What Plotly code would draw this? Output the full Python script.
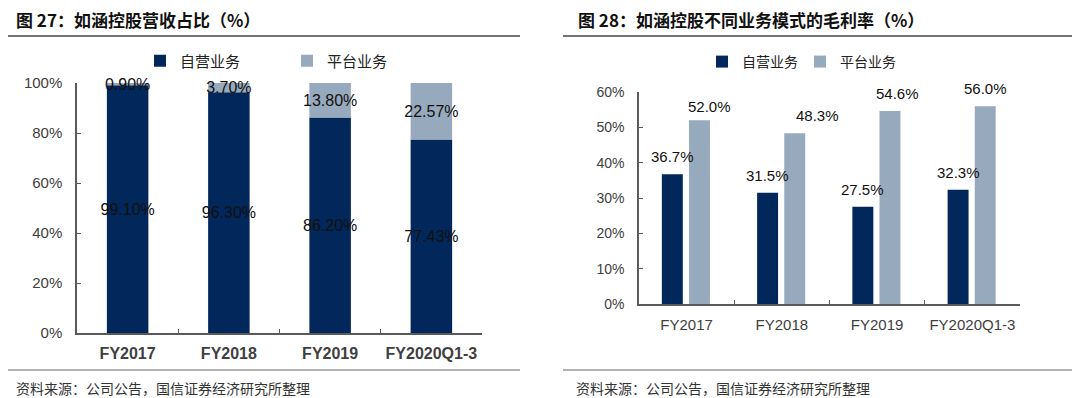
import plotly.graph_objects as go

# ---------------- data ----------------
categories = ["FY2017", "FY2018", "FY2019", "FY2020Q1-3"]
series_names = ["自营业务", "平台业务"]
self_share = [99.10, 96.30, 86.20, 77.43]        # 自营业务 revenue share (%)
platform_share = [0.90, 3.70, 13.80, 22.57]      # 平台业务 revenue share (%)
self_margin = [36.7, 31.5, 27.5, 32.3]           # 自营业务 gross margin (%)
platform_margin = [52.0, 48.3, 54.6, 56.0]       # 平台业务 gross margin (%)
share_ticks = [0, 20, 40, 60, 80, 100]
margin_ticks = [0, 10, 20, 30, 40, 50, 60]
title_left = "图 27：如涵控股营收占比（%）"
title_right = "图 28：如涵控股不同业务模式的毛利率（%）"
source_text = "资料来源：公司公告，国信证券经济研究所整理"

# ---------------- styling ----------------
PAGE_W, PAGE_H = 1080, 398
BODY = 8                      # default page margin around the plot div
W, H = PAGE_W - BODY, PAGE_H - BODY
NAVY = "#02275A"
LIGHT = "#97A9BC"
AXIS = "#5a5a5a"
TICKTXT = "#404040"
LABEL = "#111111"
CJK = "Noto Sans CJK SC"
LAT = "Liberation Sans, Arial, sans-serif"


def px(x):
    """page pixel x -> paper fraction"""
    return (x - BODY) / W


def py(y):
    """page pixel y -> paper fraction"""
    return 1 - (y - BODY) / H


fig = go.Figure()

# left: stacked share (overlay with explicit base)
fig.add_bar(x=categories, y=self_share, name=series_names[0], marker_color=NAVY,
            marker_line_width=0, width=0.41, offset=-0.205,
            text=[f"{v:.2f}%" for v in self_share], textposition="inside",
            insidetextanchor="middle", constraintext="none", textangle=0,
            insidetextfont=dict(family=LAT, size=16, color=LABEL), cliponaxis=False,
            xaxis="x", yaxis="y", legend="legend", hoverinfo="skip")
fig.add_bar(x=categories, y=platform_share, base=self_share, name=series_names[1],
            marker_color=LIGHT, marker_line_width=0, width=0.41, offset=-0.205,
            text=[f"{v:.2f}%" for v in platform_share], textposition="inside",
            insidetextanchor="middle", constraintext="none", textangle=0,
            insidetextfont=dict(family=LAT, size=16, color=LABEL), cliponaxis=False,
            xaxis="x", yaxis="y", legend="legend", hoverinfo="skip")

# right: grouped margins
BW = 0.22
OFF_SELF = -0.26
OFF_PLAT = 0.025
fig.add_bar(x=categories, y=self_margin, name=series_names[0], marker_color=NAVY,
            marker_line_width=0, width=BW, offset=OFF_SELF,
            xaxis="x2", yaxis="y2", legend="legend2", hoverinfo="skip")
fig.add_bar(x=categories, y=platform_margin, name=series_names[1], marker_color=LIGHT,
            marker_line_width=0, width=BW, offset=OFF_PLAT,
            xaxis="x2", yaxis="y2", legend="legend2", hoverinfo="skip")

annotations = []
# value labels on the margin chart (pixel nudges replicate the hand-placed labels)
self_nudge = [(0, 0), (0, 0), (0, 0), (0, 0)]
plat_nudge = [(10, -4), (23, 0), (8, 0), (0, 0)]
for i, v in enumerate(self_margin):
    annotations.append(dict(x=i + OFF_SELF + BW / 2, y=v, xref="x2", yref="y2",
                            text=f"{v:.1f}%", showarrow=False, yanchor="bottom",
                            xshift=self_nudge[i][0], yshift=7 + self_nudge[i][1],
                            font=dict(family=LAT, size=15, color=LABEL)))
for i, v in enumerate(platform_margin):
    annotations.append(dict(x=i + OFF_PLAT + BW / 2, y=v, xref="x2", yref="y2",
                            text=f"{v:.1f}%", showarrow=False, yanchor="bottom",
                            xshift=plat_nudge[i][0], yshift=7 + plat_nudge[i][1],
                            font=dict(family=LAT, size=15, color=LABEL)))

# titles and sources
for x, t in [(14, title_left), (576, title_right)]:
    annotations.append(dict(x=px(x), y=py(19), xref="paper", yref="paper", text=t,
                            showarrow=False, xanchor="left", yanchor="middle",
                            font=dict(family=CJK, size=17, color="#111111", weight="bold")))
for x in [14, 574]:
    annotations.append(dict(x=px(x), y=py(388), xref="paper", yref="paper",
                            text=source_text, showarrow=False, xanchor="left",
                            yanchor="middle",
                            font=dict(family=CJK, size=14, color="#333333")))

shapes = [
    dict(type="line", xref="paper", yref="paper", x0=px(BODY), x1=px(520), y0=py(36), y1=py(36),
         line=dict(color="#444444", width=1.5)),
    dict(type="line", xref="paper", yref="paper", x0=px(563), x1=1, y0=py(36), y1=py(36),
         line=dict(color="#444444", width=1.5)),
    dict(type="line", xref="paper", yref="paper", x0=px(BODY), x1=px(520), y0=py(370), y1=py(370),
         line=dict(color="#666666", width=1.2)),
    dict(type="line", xref="paper", yref="paper", x0=px(563), x1=1, y0=py(370), y1=py(370),
         line=dict(color="#666666", width=1.2)),
]

xcommon = dict(type="category", showline=True, linecolor=AXIS, linewidth=1.5,
               ticks="inside", tickson="boundaries", ticklen=4, tickcolor=AXIS,
               showgrid=False, zeroline=False, range=[-0.5, 3.5], fixedrange=True,
               automargin=False)
ycommon = dict(showline=True, linecolor=AXIS, linewidth=1.5, ticks="inside", ticklen=4,
               tickcolor=AXIS, showgrid=False, zeroline=False, tickmode="array",
               fixedrange=True, automargin=False)

fig.update_layout(
    width=W, height=H, margin=dict(l=0, r=0, t=0, b=0, autoexpand=False),
    paper_bgcolor="white", plot_bgcolor="white", barmode="overlay",
    showlegend=True,
    xaxis=dict(**xcommon, domain=[px(77), px(482)], anchor="y",
               tickfont=dict(family=LAT, size=16, color=TICKTXT, weight="bold"),
               ticklabelstandoff=5),
    yaxis=dict(**ycommon, domain=[py(333), py(83)], anchor="x", range=[0, 100],
               tickvals=share_ticks, ticktext=[f"{v}%" for v in share_ticks],
               tickfont=dict(family=LAT, size=15, color=TICKTXT),
               ticklabelstandoff=10),
    xaxis2=dict(**xcommon, domain=[px(639), px(1020)], anchor="y2",
                tickfont=dict(family=LAT, size=15, color=TICKTXT),
                ticklabelstandoff=6),
    yaxis2=dict(**ycommon, domain=[py(304), py(92)], anchor="x2", range=[0, 60],
                tickvals=margin_ticks, ticktext=[f"{v}%" for v in margin_ticks],
                tickfont=dict(family=LAT, size=14, color=TICKTXT),
                ticklabelstandoff=10),
    legend=dict(orientation="h", x=px(140), y=py(61), xanchor="left", yanchor="middle",
                font=dict(family=CJK, size=15, color="#222222"), bgcolor="rgba(0,0,0,0)",
                entrywidth=102, itemwidth=30),
    legend2=dict(orientation="h", x=px(702), y=py(62), xanchor="left", yanchor="middle",
                 font=dict(family=CJK, size=14, color="#222222"), bgcolor="rgba(0,0,0,0)",
                 entrywidth=53, itemwidth=30),
    annotations=annotations,
    shapes=shapes,
)

fig.write_html("out.html")
